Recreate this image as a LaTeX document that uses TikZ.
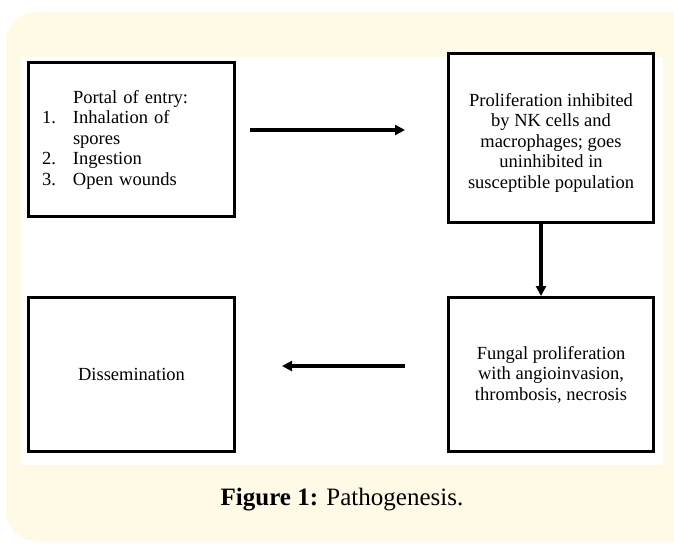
\documentclass[tikz,border=0pt]{standalone}
\usepackage{fontspec}
\setmainfont{Liberation Serif}
\usepackage{tikz}
\usetikzlibrary{arrows.meta, positioning}
\usepackage{xcolor}
\definecolor{figcream}{HTML}{FFFAE6}

\begin{document}
\begin{tikzpicture}[x=1pt, y=1pt,
    stage/.style={draw=black, line width=3.2pt, fill=white, inner sep=0pt,
        align=center, font=\fontsize{18.5}{20.5}\selectfont},
    flow/.style={line width=3.2pt, -{Triangle[length=10pt, width=10pt]}}]
    % Background panel
    \clip (0,0) rectangle (674,-546);
    \fill[figcream, rounded corners=30pt] (6,-12) rectangle (710,-541);
    \fill[white] (21,-57) rectangle (663,-465);

    % Boxes
    \node[stage, minimum width=205.8pt, minimum height=153.8pt,
        text width=179pt, align=left] (entry) at (131.5,-139.5)
        {\hspace*{31pt}Portal of entry:\\
         \makebox[31pt][l]{1.}Inhalation of\\
         \hspace*{31pt}spores\\
         \makebox[31pt][l]{2.}Ingestion\\
         \makebox[31pt][l]{3.}Open wounds};
    \node[stage, minimum width=204.8pt, minimum height=168.8pt,
        right=211pt of entry, yshift=1.5pt] (inhibit)
        {\mbox{}\\[2pt]Proliferation inhibited\\ by NK cells and\\ macrophages; goes\\
         uninhibited in\\ susceptible population};
    \node[stage, minimum width=204.8pt, minimum height=153.8pt,
        below=72pt of inhibit] (fungal)
        {Fungal proliferation\\ with angioinvasion,\\ thrombosis, necrosis};
    \node[stage, minimum width=205.8pt, minimum height=153.8pt,
        left=211pt of fungal] (spread) {Dissemination};

    % Arrows
    \draw[flow] ([xshift=14pt, yshift=9.5pt]entry.east) -- ([xshift=-42pt, yshift=8pt]inhibit.west);
    \draw[flow] ([xshift=-10pt]inhibit.south) -- ([xshift=-10pt]fungal.north);
    \draw[flow] ([xshift=-42pt, yshift=8.5pt]fungal.west) -- ([xshift=46pt, yshift=8.5pt]spread.east);

    % Caption
    \node[font=\fontsize{25}{29}\selectfont] (caption) at (342,-500)
        {\textbf{Figure 1:} Pathogenesis.};
\end{tikzpicture}
\end{document}
